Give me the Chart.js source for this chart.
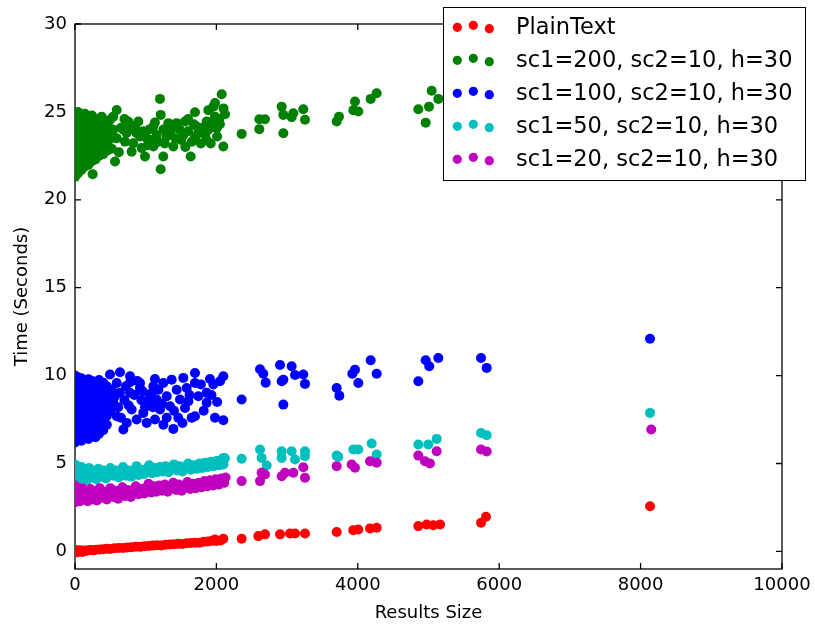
<!DOCTYPE html>
<html>
<head>
<meta charset="utf-8">
<script src="https://cdn.jsdelivr.net/npm/chart.js@4.4.0/dist/chart.umd.min.js"></script>
<style>
    html, body { margin: 0; padding: 0; background: #fff; }
    #wrap { width: 815px; height: 628px; }
</style>
</head>
<body>
<div id="wrap"><canvas id="chart" width="815" height="628"></canvas></div>
<script>
// tick labels
var xTicks = [0, 2000, 4000, 6000, 8000, 10000];
var yTicks = [0, 5, 10, 15, 20, 25, 30];

var seriesLabels = [
    'PlainText',
    'sc1=200, sc2=10, h=30',
    'sc1=100, sc2=10, h=30',
    'sc1=50, sc2=10, h=30',
    'sc1=20, sc2=10, h=30'
];
var seriesColors = ['#ff0000', '#008000', '#0000ff', '#00bfbf', '#bf00bf'];

// [results size, seconds]
var plainText = [
    [0, 0.0], [10, 0.08], [20, 0.02], [30, -0.05], [40, -0.02], [60, 0.03], [70, 0.07], [90, 0.01],
    [100, -0.03], [120, 0.05], [150, 0.03], [180, 0.06], [220, 0.08], [260, 0.06], [300, 0.1],
    [350, 0.11], [400, 0.12], [450, 0.15], [500, 0.14], [560, 0.18], [620, 0.2], [680, 0.19],
    [740, 0.23], [800, 0.24], [860, 0.27], [920, 0.26], [980, 0.3], [1040, 0.31], [1100, 0.33],
    [1160, 0.35], [1220, 0.34], [1280, 0.38], [1340, 0.4], [1400, 0.41], [1460, 0.43], [1520, 0.42],
    [1580, 0.46], [1640, 0.48], [1700, 0.5], [1760, 0.49], [1820, 0.55], [1880, 0.56], [1940, 0.6],
    [1980, 0.68], [2000, 0.59], [2060, 0.62], [2098, 0.72],
    [2357, 0.72], [2593, 0.87], [2687, 0.97], [2900, 0.97], [3041, 1.02], [3112, 1.02], [3253, 1.02],
    [3701, 1.1], [3936, 1.21], [4007, 1.25], [4173, 1.31], [4267, 1.35], [4856, 1.44], [4974, 1.53],
    [5068, 1.49], [5163, 1.53], [5743, 1.63], [5813, 1.97], [8133, 2.57]
];

var sc200 = [
    [0, 21.3], [0, 21.75], [0, 22.2], [0, 22.65], [0, 23.1], [0, 23.55], [0, 24.0], [0, 24.45], [0, 24.9],
    [40, 21.5], [40, 21.95], [40, 22.4], [40, 22.85], [40, 23.3], [40, 23.75], [40, 24.2], [40, 24.65], [40, 25.0],
    [90, 21.7], [90, 22.15], [90, 22.6], [90, 23.05], [90, 23.5], [90, 23.95], [90, 24.4], [90, 24.8],
    [140, 21.9], [140, 22.35], [140, 22.8], [140, 23.25], [140, 23.7], [140, 24.15], [140, 24.6], [140, 24.9],
    [190, 22.0], [190, 22.45], [190, 22.9], [190, 23.35], [190, 23.8], [190, 24.25], [190, 24.7],
    [240, 22.2], [240, 22.65], [240, 23.1], [240, 23.55], [240, 24.0], [240, 24.45], [240, 24.8],
    [290, 22.3], [290, 22.75], [290, 23.2], [290, 23.65], [290, 24.1], [290, 24.55],
    [340, 22.5], [340, 22.95], [340, 23.4], [340, 23.85], [340, 24.3], [340, 24.6],
    [400, 22.6], [400, 23.1], [400, 23.6], [400, 24.1], [400, 24.5],
    [460, 22.8], [460, 23.3], [460, 23.8], [460, 24.3], [520, 22.9], [520, 23.5], [520, 24.0],
    [250, 21.46], [566, 22.18], [590, 25.11], [540, 24.73], [1202, 25.74], [1212, 24.83], [1212, 21.74],
    [1249, 22.46], [1697, 24.98], [2075, 26.0], [2122, 24.87], [2357, 23.75], [2098, 23.03], [1636, 22.46],
    [990, 22.46], [801, 22.74], [1957, 25.3], [1886, 25.1], [1980, 24.73], [2004, 24.07], [1862, 24.45],
    [1862, 23.4], [1721, 24.17], [1556, 24.45], [1438, 24.36], [1320, 24.36], [1108, 24.17], [896, 24.45],
    [754, 24.45], [872, 23.79], [1014, 23.5], [1155, 23.69], [1297, 23.6], [1391, 23.03], [1532, 23.69],
    [1650, 23.3], [1745, 23.79], [1886, 23.98], [825, 23.22], [943, 22.94], [1108, 23.03], [707, 23.31],
    [684, 23.98], [542, 23.98], [590, 23.5], [471, 23.03], [400, 24.36], [377, 24.73], [495, 24.55],
    [650, 24.1], [730, 23.8], [780, 24.0], [850, 24.2], [920, 23.6], [1050, 24.0], [1080, 23.4],
    [1180, 23.3], [1250, 24.0], [1350, 23.8], [1420, 23.5], [1480, 24.0], [1600, 23.9], [1700, 23.6],
    [1800, 24.1], [1930, 24.4], [2040, 24.6], [1780, 23.2], [1600, 24.6], [1980, 25.5], [2050, 24.3],
    [620, 22.7], [700, 24.6], [960, 23.9], [1030, 23.1], [1130, 24.4], [1270, 23.2], [1380, 24.2],
    [1500, 23.4], [1560, 23.0], [1680, 24.3], [1840, 23.7], [1920, 23.2], [2010, 23.6], [2100, 25.2],
    [2607, 24.58], [2687, 24.58], [2607, 24.02], [2923, 25.3], [2947, 24.83], [2947, 23.79], [3088, 24.92],
    [3064, 24.7], [3229, 25.15], [3253, 24.55], [3701, 24.45], [3734, 24.73], [3937, 25.1], [3960, 25.59],
    [4007, 25.02], [4182, 25.74], [4267, 26.06], [4856, 25.15], [4960, 24.39], [5007, 25.3], [5045, 26.2],
    [5139, 25.74]
];

var sc100 = [
    [0, 6.2], [0, 6.65], [0, 7.1], [0, 7.55], [0, 8.0], [0, 8.45], [0, 8.9], [0, 9.35], [0, 9.8], [0, 10.0],
    [40, 6.4], [40, 6.85], [40, 7.3], [40, 7.75], [40, 8.2], [40, 8.65], [40, 9.1], [40, 9.55], [40, 9.9],
    [90, 6.3], [90, 6.75], [90, 7.2], [90, 7.65], [90, 8.1], [90, 8.55], [90, 9.0], [90, 9.45], [90, 9.85],
    [140, 6.5], [140, 6.95], [140, 7.4], [140, 7.85], [140, 8.3], [140, 8.75], [140, 9.2], [140, 9.65],
    [190, 6.4], [190, 6.8], [190, 7.25], [190, 7.7], [190, 8.15], [190, 8.6], [190, 9.05], [190, 9.5], [190, 9.8],
    [240, 6.6], [240, 7.05], [240, 7.5], [240, 7.95], [240, 8.4], [240, 8.85], [240, 9.3], [240, 9.7],
    [290, 6.5], [290, 6.9], [290, 7.35], [290, 7.8], [290, 8.25], [290, 8.7], [290, 9.15], [290, 9.6],
    [340, 6.7], [340, 7.1], [340, 7.55], [340, 8.0], [340, 8.45], [340, 8.9], [340, 9.35], [340, 9.75],
    [400, 6.9], [400, 7.4], [400, 7.9], [400, 8.6], [400, 9.1], [400, 9.6],
    [450, 7.2], [450, 7.7], [450, 8.3], [450, 8.8], [450, 9.4],
    [636, 10.19], [495, 10.06], [778, 9.96], [778, 9.62], [919, 9.58], [919, 9.3], [778, 9.02], [1131, 9.81],
    [1108, 9.39], [1249, 9.58], [1367, 9.77], [1532, 9.87], [1697, 10.15], [1697, 9.58], [1744, 8.83],
    [1909, 9.81], [2098, 9.96], [2051, 9.68], [1957, 9.49], [1862, 9.02], [1862, 8.45], [1603, 8.54],
    [1556, 8.16], [1650, 7.6], [1697, 7.69], [1980, 7.6], [2098, 7.46], [1391, 6.97], [801, 8.07],
    [731, 7.31], [684, 6.93], [872, 7.5], [966, 7.88], [1037, 8.45], [1061, 8.83], [1155, 8.64],
    [1202, 8.07], [1131, 7.5], [1297, 8.83], [1344, 8.26], [1438, 9.2], [1485, 8.64], [1297, 7.6],
    [1014, 7.31], [590, 9.58], [636, 9.02], [542, 8.45], [590, 7.69], [495, 7.97], [400, 7.31], [354, 6.93],
    [520, 9.2], [560, 8.8], [610, 8.2], [650, 7.6], [700, 8.6], [720, 9.4], [760, 8.3], [840, 8.9],
    [880, 9.7], [960, 9.1], [990, 8.2], [1080, 9.0], [1180, 9.2], [1230, 8.4], [1400, 8.0], [1460, 7.6],
    [1580, 9.3], [1620, 8.9], [1780, 9.5], [1820, 8.0], [1930, 8.9], [2010, 8.5], [1250, 7.2], [1100, 8.2],
    [1520, 7.3], [940, 8.6],
    [2357, 8.64], [2617, 10.36], [2663, 10.11], [2697, 9.6], [2900, 10.6], [2947, 8.35], [2947, 9.77],
    [3064, 10.53], [3112, 10.03], [2923, 9.68], [3229, 10.06], [3253, 9.53], [3701, 9.3], [3739, 8.86],
    [3922, 10.11], [3960, 10.34], [4007, 9.58], [4182, 10.87], [4267, 10.11], [4856, 9.68], [4960, 10.87],
    [5011, 10.53], [5139, 11.0], [5743, 11.0], [5823, 10.44], [8133, 12.1]
];

var sc50 = [
    [0, 4.05], [0, 4.4], [0, 4.75], [0, 4.95], [30, 4.2], [40, 4.6], [60, 4.1], [80, 4.45], [90, 4.8],
    [120, 4.25], [140, 4.6], [170, 4.05], [190, 4.4], [200, 4.75], [240, 4.2], [260, 4.55], [300, 4.1],
    [320, 4.4], [330, 4.7], [380, 4.25], [400, 4.6], [440, 4.15], [470, 4.45], [500, 4.75], [550, 4.3],
    [580, 4.6], [620, 4.2], [650, 4.5], [680, 4.8], [720, 4.3], [760, 4.6], [800, 4.25], [830, 4.55],
    [870, 4.85], [900, 4.35], [940, 4.65], [980, 4.4], [1020, 4.7], [1050, 4.9], [1090, 4.45], [1120, 4.75],
    [1160, 4.5], [1200, 4.8], [1240, 4.55], [1280, 4.85], [1320, 4.5], [1360, 4.75], [1400, 4.95],
    [1440, 4.6], [1480, 4.85], [1520, 4.55], [1560, 4.8], [1600, 5.0], [1640, 4.65], [1680, 4.9],
    [1720, 4.7], [1760, 5.0], [1800, 4.75], [1840, 5.05], [1880, 4.8], [1920, 5.1], [1960, 4.85],
    [2000, 5.15], [2040, 4.9], [2080, 5.2], [2120, 5.3], [2100, 4.95],
    [2004, 4.94], [2098, 5.32], [2357, 5.27], [2617, 5.8], [2640, 5.32], [2711, 4.89], [2923, 5.7],
    [2923, 5.32], [3064, 5.7], [3112, 5.23], [3253, 5.7], [3253, 5.42], [3701, 5.45], [3724, 5.38],
    [3936, 5.8], [4007, 5.8], [4196, 6.14], [4267, 5.51], [4856, 6.08], [4997, 6.08], [5116, 6.4],
    [5743, 6.74], [5823, 6.61], [8133, 7.88]
];

var sc20 = [
    [0, 2.8], [0, 3.15], [0, 3.5], [0, 3.75], [30, 2.95], [50, 3.35], [70, 2.85], [90, 3.2], [100, 3.6],
    [130, 3.0], [150, 3.4], [180, 2.85], [200, 3.2], [220, 3.55], [260, 2.95], [280, 3.3], [310, 2.9],
    [330, 3.25], [350, 3.6], [390, 3.05], [410, 3.4], [450, 2.95], [480, 3.3], [500, 3.6], [540, 3.1],
    [570, 3.45], [610, 3.0], [640, 3.35], [670, 3.65], [710, 3.15], [750, 3.5], [790, 3.1], [820, 3.4],
    [860, 3.7], [900, 3.25], [940, 3.55], [980, 3.3], [1010, 3.65], [1040, 3.85], [1080, 3.35], [1110, 3.7],
    [1150, 3.4], [1190, 3.75], [1230, 3.45], [1270, 3.8], [1310, 3.4], [1350, 3.7], [1390, 3.9],
    [1430, 3.5], [1470, 3.8], [1510, 3.45], [1550, 3.75], [1590, 3.95], [1630, 3.55], [1670, 3.85],
    [1710, 3.6], [1750, 3.9], [1790, 3.65], [1830, 4.0], [1870, 3.7], [1910, 4.05], [1950, 3.75],
    [1990, 4.1], [2030, 3.8], [2070, 4.15], [2110, 3.9], [2130, 4.2],
    [2357, 4.0], [2617, 4.0], [2640, 4.47], [2687, 4.38], [2923, 4.28], [2970, 4.47], [3088, 4.47],
    [3229, 4.79], [3253, 4.19], [3701, 4.85], [3913, 4.94], [3960, 4.76], [4173, 5.13], [4267, 5.04],
    [4856, 5.45], [4950, 5.13], [5021, 5.0], [5116, 5.7], [5743, 5.8], [5823, 5.68], [8150, 6.93]
];

var seriesData = [plainText, sc200, sc100, sc50, sc20];

var FONT = '"DejaVu Sans", sans-serif';
var TICK_LEN = 6;

// frame with inward ticks on all four sides (matplotlib classic look)
var framePlugin = {
    id: 'frame',
    beforeDatasetsDraw: function (chart) {
        var a = chart.chartArea;
        var ctx = chart.ctx;
        var xs = chart.scales.x;
        var ys = chart.scales.y;
        ctx.save();
        ctx.strokeStyle = '#000';
        ctx.lineWidth = 1.3;
        ctx.strokeRect(a.left, a.top, a.right - a.left, a.bottom - a.top);
        ctx.beginPath();
        xTicks.forEach(function (v) {
            var px = xs.getPixelForValue(v);
            ctx.moveTo(px, a.bottom);
            ctx.lineTo(px, a.bottom - TICK_LEN);
            ctx.moveTo(px, a.top);
            ctx.lineTo(px, a.top + TICK_LEN);
        });
        yTicks.forEach(function (v) {
            var py = ys.getPixelForValue(v);
            ctx.moveTo(a.left, py);
            ctx.lineTo(a.left + TICK_LEN, py);
            ctx.moveTo(a.right, py);
            ctx.lineTo(a.right - TICK_LEN, py);
        });
        ctx.stroke();
        ctx.restore();
    }
};

// boxed legend with three scatter dots per entry
var legendPlugin = {
    id: 'boxLegend',
    afterDraw: function (chart) {
        var ctx = chart.ctx;
        var boxX = 443, boxY = 7, boxW = 362, boxH = 173;
        var rowH = 33;
        var dotX = [457.3, 473.3, 489.3];
        var dotDy = [0.8, -1.2, 2.2];
        ctx.save();
        ctx.fillStyle = '#fff';
        ctx.fillRect(boxX, boxY, boxW, boxH);
        ctx.strokeStyle = '#000';
        ctx.lineWidth = 1;
        ctx.strokeRect(boxX + 0.5, boxY + 0.5, boxW, boxH);
        ctx.font = '22.5px ' + FONT;
        ctx.textBaseline = 'alphabetic';
        ctx.textAlign = 'left';
        chart.data.datasets.forEach(function (ds, i) {
            var cy = 26.5 + rowH * i;
            ctx.fillStyle = ds.backgroundColor;
            dotX.forEach(function (dx, k) {
                ctx.beginPath();
                ctx.arc(dx, cy + dotDy[k], 4.6, 0, Math.PI * 2);
                ctx.fill();
            });
            ctx.fillStyle = '#000';
            ctx.fillText(ds.label, 516, 33.5 + rowH * i);
        });
        ctx.restore();
    }
};

var datasets = seriesData.map(function (pts, i) {
    return {
        label: seriesLabels[i],
        data: pts.map(function (p) { return { x: p[0], y: p[1] }; }),
        backgroundColor: seriesColors[i],
        borderWidth: 0,
        pointRadius: 5,
        pointHoverRadius: 5,
        clip: 0,
        order: seriesData.length - 1 - i
    };
});

new Chart(document.getElementById('chart'), {
    type: 'scatter',
    data: { datasets: datasets },
    options: {
        responsive: false,
        animation: false,
        events: [],
        layout: { padding: { top: 24, right: 33, left: 0, bottom: 0 } },
        plugins: {
            legend: { display: false },
            tooltip: { enabled: false }
        },
        scales: {
            x: {
                type: 'linear',
                min: 0,
                max: 10000,
                grid: { display: false, drawTicks: false },
                border: { display: false },
                afterBuildTicks: function (s) {
                    s.ticks = xTicks.map(function (v) { return { value: v }; });
                },
                afterFit: function (s) {
                    s.height = 59;
                    s.paddingLeft = 0;
                    s.paddingRight = 0;
                },
                ticks: {
                    color: '#000',
                    padding: 6,
                    maxRotation: 0,
                    font: { family: FONT, size: 18 },
                    callback: function (v) { return String(v); }
                },
                title: {
                    display: true,
                    text: 'Results Size',
                    color: '#000',
                    font: { family: FONT, size: 18 },
                    padding: { top: 0, bottom: 4 }
                }
            },
            y: {
                type: 'linear',
                min: -1,
                max: 30,
                grid: { display: false, drawTicks: false },
                border: { display: false },
                afterBuildTicks: function (s) {
                    s.ticks = yTicks.map(function (v) { return { value: v }; });
                },
                afterFit: function (s) {
                    s.width = 75;
                    s.paddingTop = 0;
                    s.paddingBottom = 0;
                },
                ticks: {
                    color: '#000',
                    padding: 8,
                    font: { family: FONT, size: 18 },
                    callback: function (v) { return String(v); }
                },
                title: {
                    display: true,
                    text: 'Time (Seconds)',
                    color: '#000',
                    font: { family: FONT, size: 18 },
                    padding: { top: 12, bottom: 0 }
                }
            }
        }
    },
    plugins: [framePlugin, legendPlugin]
});
</script>
</body>
</html>
